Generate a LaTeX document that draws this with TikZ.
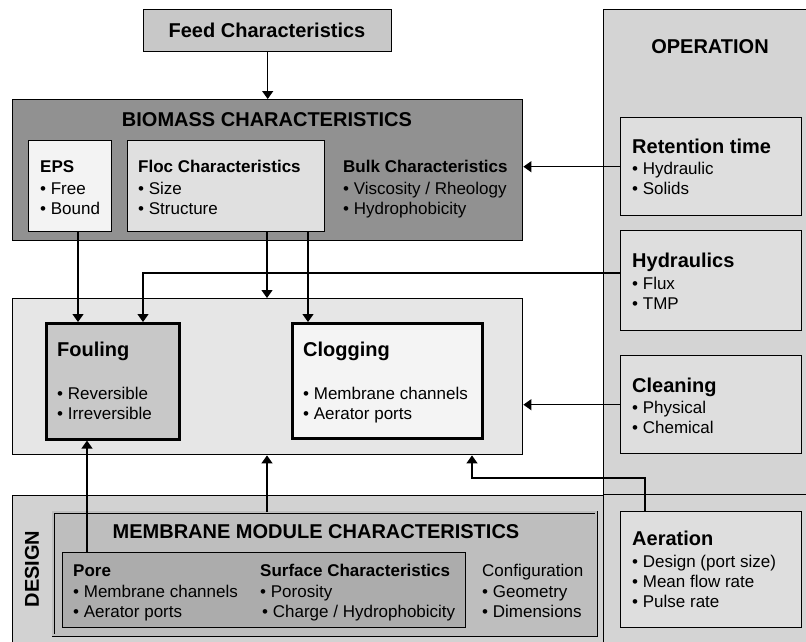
\documentclass[tikz,border=0pt]{standalone}
\usepackage{fontspec}
\setmainfont{Liberation Sans}
\usetikzlibrary{arrows.meta}
\definecolor{feedfill}{RGB}{200,200,200}
\definecolor{biofill}{RGB}{145,145,145}
\definecolor{epsfill}{RGB}{243,243,243}
\definecolor{flocfill}{RGB}{224,224,224}
\definecolor{opfill}{RGB}{212,212,212}
\definecolor{opbox}{RGB}{222,222,222}
\definecolor{midfill}{RGB}{230,230,230}
\definecolor{foulfill}{RGB}{200,200,200}
\definecolor{clogfill}{RGB}{244,244,244}
\definecolor{desfill}{RGB}{210,210,210}
\definecolor{modfill}{RGB}{190,190,190}
\definecolor{porefill}{RGB}{172,172,172}
\begin{document}
\begin{tikzpicture}[x=1pt,y=-1pt,
  box/.style={draw=black, line width=1.4pt, inner sep=0pt, anchor=north west},
  thickbox/.style={box, line width=2.6pt},
  big/.style={font=\fontsize{20}{24}\selectfont\bfseries, inner sep=0pt, anchor=base},
  txt/.style={font=\fontsize{17}{21}\selectfont, inner sep=0pt, anchor=base west},
  sub/.style={txt, font=\fontsize{17}{21}\selectfont\bfseries},
  subbig/.style={txt, font=\fontsize{20}{24}\selectfont\bfseries},
  arr/.style={line width=1.3pt, -{Triangle[width=11pt,length=8pt]}}]
\useasboundingbox (0,0) rectangle (806,641);
\fill[white] (0,0) rectangle (806,641);
% boxes
\node[box, fill=feedfill, minimum width=248pt, minimum height=42pt] (feed) at (143,9) {};
\node[box, fill=biofill, minimum width=510pt, minimum height=141pt] (bio) at (12,99) {};
\node[box, fill=epsfill, minimum width=83pt, minimum height=91pt] (eps) at (28,140) {};
\node[box, fill=flocfill, minimum width=197pt, minimum height=91pt] (floc) at (127,140) {};
\node[box, fill=opfill, minimum width=212pt, minimum height=485pt] (op) at (603,9) {};
\node[box, fill=opbox, minimum width=181pt, minimum height=98pt] (ret) at (620,117) {};
\node[box, fill=opbox, minimum width=181pt, minimum height=100pt] (hyd) at (620,230) {};
\node[box, fill=opbox, minimum width=181pt, minimum height=98pt] (cln) at (620,355) {};
\node[box, fill=opfill, minimum width=212pt, minimum height=160pt] (br) at (603,494) {};
\node[box, fill=opbox, minimum width=181pt, minimum height=116pt] (aer) at (620,511) {};
\node[box, fill=midfill, minimum width=510pt, minimum height=156pt] (mid) at (12,298) {};
\node[thickbox, fill=foulfill, minimum width=133pt, minimum height=116pt] (foul) at (45,322) {};
\node[thickbox, fill=clogfill, minimum width=190pt, minimum height=115pt] (clog) at (291,322) {};
\node[box, fill=desfill, minimum width=591pt, minimum height=160pt] (des) at (12,495) {};
\node[box, line width=0.8pt, double=modfill, double distance=2pt, fill=modfill, minimum width=543pt, minimum height=123pt] (module) at (53,512) {};
\node[box, fill=porefill, minimum width=403pt, minimum height=75pt] (pore) at (62,552) {};
% texts
\node[big] (feedt) at (267,37) {Feed Characteristics};
\node[big] (biot) at (267,126) {BIOMASS CHARACTERISTICS};
\node[sub] (epst) at (40,172) {EPS};
\node[txt] (eps1) at (40,194) {• Free};
\node[txt] (eps2) at (40,214) {• Bound};
\node[sub] (floct) at (138,172) {Floc Characteristics};
\node[txt] (floc1) at (138,194) {• Size};
\node[txt] (floc2) at (138,214) {• Structure};
\node[sub] (bulkt) at (343,172) {Bulk Characteristics};
\node[txt] (bulk1) at (343,194) {• Viscosity / Rheology};
\node[txt] (bulk2) at (343,214) {• Hydrophobicity};
\node[big] (opt) at (710,53) {OPERATION};
\node[subbig] (rett) at (632,153) {Retention time};
\node[txt] (ret1) at (632,174) {• Hydraulic};
\node[txt] (ret2) at (632,194) {• Solids};
\node[subbig] (hydt) at (632,267) {Hydraulics};
\node[txt] (hyd1) at (632,289) {• Flux};
\node[txt] (hyd2) at (632,309) {• TMP};
\node[subbig] (clnt) at (632,392) {Cleaning};
\node[txt] (cln1) at (632,413) {• Physical};
\node[txt] (cln2) at (632,433) {• Chemical};
\node[subbig] (foult) at (57,356) {Fouling};
\node[txt] (foul1) at (57,399) {• Reversible};
\node[txt] (foul2) at (57,419) {• Irreversible};
\node[subbig] (clogt) at (303,356) {Clogging};
\node[txt] (clog1) at (303,399) {• Membrane channels};
\node[txt] (clog2) at (303,419) {• Aerator ports};
\node[big] (modt) at (316,538) {MEMBRANE MODULE CHARACTERISTICS};
\node[sub] (poret) at (73,576) {Pore};
\node[txt] (pore1) at (73,597) {• Membrane channels};
\node[txt] (pore2) at (73,617) {• Aerator ports};
\node[sub] (surft) at (260,576) {Surface Characteristics};
\node[txt] (surf1) at (260,597) {• Porosity};
\node[txt] (surf2) at (262,617) {• Charge / Hydrophobicity};
\node[txt] (conft) at (482,576) {Configuration};
\node[txt] (conf1) at (482,597) {• Geometry};
\node[txt] (conf2) at (482,617) {• Dimensions};
\node[big, rotate=90, anchor=center] (dest) at (32,569) {DESIGN};
\node[subbig] (aert) at (632,545) {Aeration};
\node[txt] (aer1) at (632,567) {• Design (port size)};
\node[txt] (aer2) at (632,587) {• Mean flow rate};
\node[txt] (aer3) at (632,607) {• Pulse rate};
% connector coordinates
\coordinate (xa) at (78,0);
\coordinate (xb) at (143,0);
\coordinate (xc) at (267,0);
\coordinate (xd) at (308,0);
\coordinate (xe) at (87,0);
\coordinate (xg) at (472,0);
\coordinate (xh) at (645,0);
\coordinate (yh) at (0,273);
\coordinate (ya) at (0,478);
% connectors
\draw[arr] (feed.south) -- (bio.north);
\draw[arr] (ret.west) -- (ret.west -| bio.east);
\draw[arr] (eps.south -| xa) -- (foul.north -| xa);
\draw[arr] (hyd.west |- yh) -- (yh -| xb) -- (foul.north -| xb);
\draw[arr] (floc.south -| xc) -- (mid.north -| xc);
\draw[arr] (floc.south -| xd) -- (clog.north -| xd);
\draw[arr] (cln.west) -- (cln.west -| mid.east);
\draw[arr] (aer.north -| xh) -- (xh |- ya) -- (ya -| xg) -- (mid.south -| xg);
\draw[arr] (pore.north -| xe) -- (foul.south -| xe);
\draw[arr] (module.north -| xc) -- (mid.south -| xc);
\end{tikzpicture}
\end{document}
